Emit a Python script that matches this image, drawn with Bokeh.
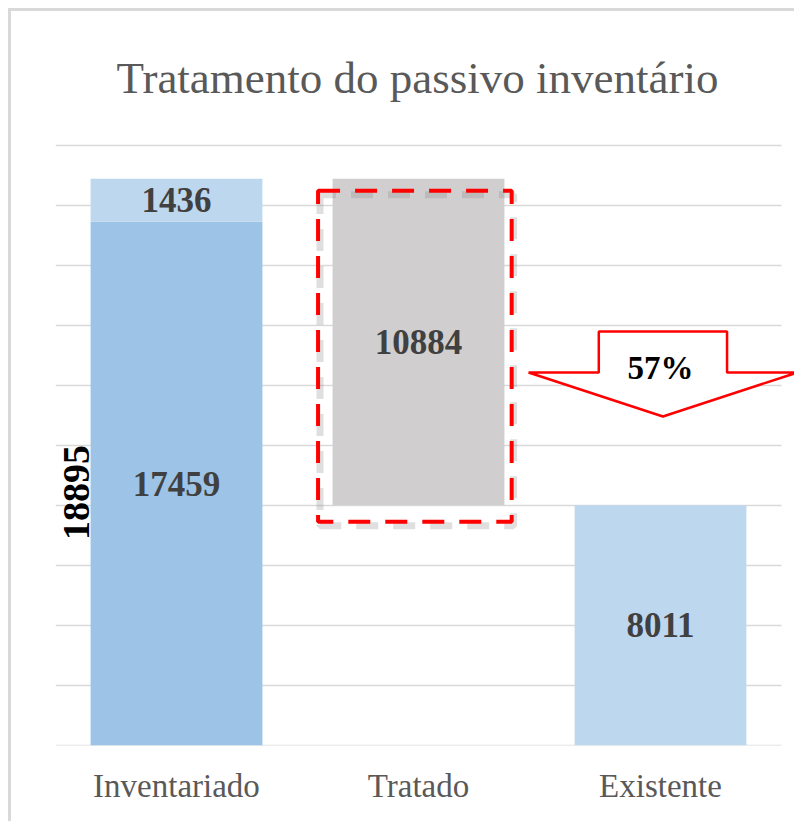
import math
from bokeh.plotting import figure
from bokeh.models import Range1d, FixedTicker
from bokeh.core.properties import value
from bokeh.embed import file_html
from bokeh.resources import INLINE

# ---- data ----
categories = ["Inventariado", "Tratado", "Existente"]
inventariado_base = 17459
inventariado_extra = 1436
tratado = 10884
existente = 8011
pct_label = "57%"
grid_values = list(range(0, 20001, 2000))

inventariado_total = inventariado_base + inventariado_extra  # 18895
xs = [0.5, 1.5, 2.5]
bar_w = 0.71

FONT = value("Liberation Serif")

p = figure(width=786, height=813,
           x_range=Range1d(0, 742 / 242), y_range=Range1d(0, 20167),
           output_backend="svg", toolbar_location=None,
           min_border_left=44, min_border_right=0,
           min_border_top=129, min_border_bottom=79)
p.styles = {"border-left": "3px solid #d9d9d9", "border-top": "3px solid #d9d9d9",
            "margin-left": "8px", "margin-top": "8px"}
p.outline_line_color = None
p.background_fill_color = "white"
p.border_fill_color = "white"
p.grid.visible = False
p.yaxis.visible = False

# title
p.title.text = "Tratamento do passivo inventário"
p.title.align = "left"
p.title.text_font = "Liberation Serif"
p.title.text_font_size = "45px"
p.title.text_font_style = "normal"
p.title.text_color = "#595959"
p.title.standoff = 76
p.title.offset = 61

# x axis
p.xaxis.ticker = FixedTicker(ticks=xs)
p.xaxis.major_label_overrides = {xs[i]: categories[i] for i in range(3)}
p.xaxis.axis_line_color = None
p.xaxis.major_tick_line_color = None
p.xaxis.minor_tick_line_color = None
p.xaxis.major_tick_out = 0
p.xaxis.major_label_standoff = 22
p.xaxis.major_label_text_font = "Liberation Serif"
p.xaxis.major_label_text_font_size = "33px"
p.xaxis.major_label_text_color = "#595959"

# gridlines
p.segment(x0=[0] * len(grid_values), x1=[3] * len(grid_values),
          y0=grid_values, y1=grid_values, line_color="#d9d9d9", line_width=1.3)

# bars
p.vbar(x=[xs[0]], bottom=[0], top=[inventariado_base], width=bar_w,
       fill_color="#9dc3e6", line_color=None)
p.vbar(x=[xs[0]], bottom=[inventariado_base], top=[inventariado_total], width=bar_w,
       fill_color="#bdd7ee", line_color=None)
p.vbar(x=[xs[1]], bottom=[existente], top=[existente + tratado], width=bar_w,
       fill_color="#d0cece", line_color=None)
p.vbar(x=[xs[2]], bottom=[0], top=[existente], width=bar_w,
       fill_color="#bdd7ee", line_color=None)

# dashed highlight box around "Tratado" (with soft shadow)
bl = xs[1] - bar_w / 2 - 0.06
br = xs[1] + bar_w / 2 + 0.03
bt = existente + tratado - 400
bb = existente - 550
p.quad(left=[bl + 0.008], right=[br + 0.008], top=[bt - 140], bottom=[bb - 140],
       fill_alpha=0, line_color="#7f7f7f", line_alpha=0.25, line_width=7,
       line_dash="22 15", line_dash_offset=6)
p.quad(left=[bl], right=[br], top=[bt], bottom=[bb],
       fill_alpha=0, line_color="#ff0000", line_width=4, line_dash="22 15")

# down arrow
xc = xs[2] + 0.01
y_top = 13800
y_sh = 12433
y_tip = 10967
ax = [xc - 0.265, xc + 0.265, xc + 0.265, xc + 0.555, xc, xc - 0.555, xc - 0.265]
ay = [y_top, y_top, y_sh, y_sh, y_tip, y_sh, y_sh]
p.patch(ax, ay, fill_color="white", line_color="#ff0000", line_width=2.5)

# labels
lab_x = [xs[0], xs[0], xs[1], xs[2]]
lab_y = [inventariado_base / 2, inventariado_base + inventariado_extra / 2,
         existente + tratado / 2, existente / 2]
lab_t = [str(inventariado_base), str(inventariado_extra), str(tratado), str(existente)]
p.text(x=lab_x, y=lab_y, text=lab_t, text_font=FONT, text_font_style="bold",
       text_font_size="35px", text_align="center", text_baseline="middle",
       text_color="#404040")

p.text(x=[xs[2]], y=[12567], text=[pct_label], text_font=FONT, text_font_style="bold",
       text_font_size="33px", text_align="center", text_baseline="middle",
       text_color="black")

p.text(x=[0.087], y=[8433], text=[str(inventariado_total)], angle=math.pi / 2,
       text_font=FONT, text_font_style="bold", text_font_size="38px",
       text_align="center", text_baseline="middle", text_color="black")

open("out.html", "w").write(file_html(p, INLINE))
